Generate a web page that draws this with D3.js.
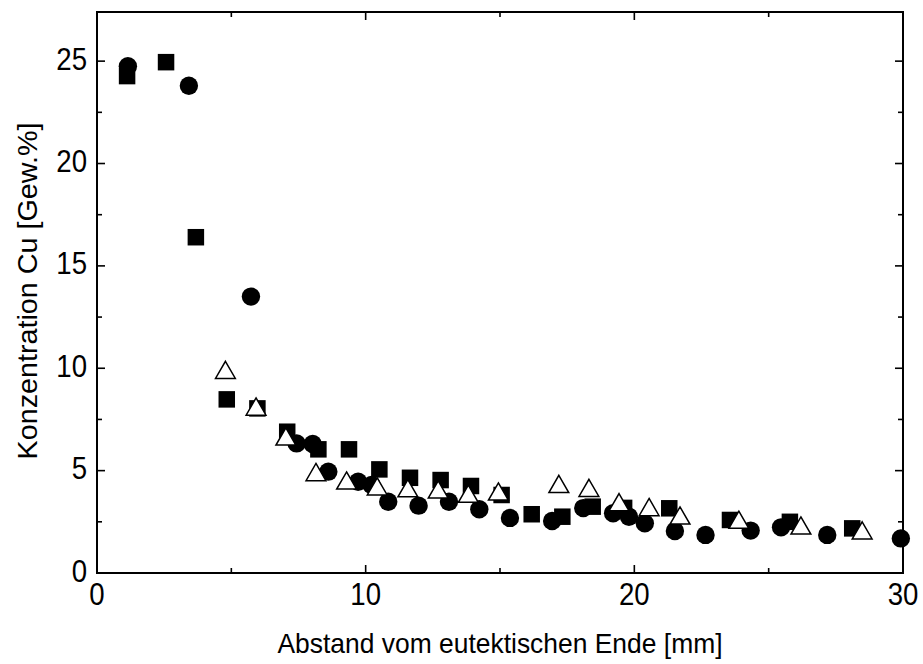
<!DOCTYPE html>
<html>
<head>
<meta charset="utf-8">
<script src="https://cdn.jsdelivr.net/npm/d3@7"></script>
<style>
  html, body { margin: 0; padding: 0; background: #fff; }
  svg { display: block; }
  text { font-family: "Liberation Sans", Arial, sans-serif; fill: #000; }
</style>
</head>
<body>
<svg id="chart" width="923" height="664"></svg>
<script>
// Cu concentration vs. distance from the eutectic end, three sample series
const circleX = [1.15, 3.42, 5.73, 7.43, 8.03, 8.61, 9.72, 10.22, 10.84, 11.97, 13.1, 14.23, 15.37, 16.94, 18.1, 19.21, 19.8, 20.39, 21.51, 22.65, 24.33, 25.46, 27.18, 29.92];
const circleY = [24.75, 23.8, 13.5, 6.33, 6.3, 4.95, 4.46, 4.3, 3.48, 3.29, 3.48, 3.11, 2.69, 2.54, 3.17, 2.92, 2.75, 2.43, 2.05, 1.86, 2.07, 2.23, 1.86, 1.69];

const squareX = [1.12, 2.57, 3.68, 4.83, 5.97, 7.08, 8.24, 9.38, 10.51, 11.65, 12.79, 13.92, 15.06, 16.18, 17.32, 18.45, 19.62, 21.3, 23.56, 25.79, 28.11];
const squareY = [24.27, 24.95, 16.4, 8.48, 8.04, 6.9, 6.04, 6.04, 5.06, 4.65, 4.54, 4.25, 3.81, 2.87, 2.75, 3.24, 3.18, 3.16, 2.59, 2.5, 2.18];

const triangleX = [4.78, 5.92, 7.03, 8.15, 9.29, 10.43, 11.57, 12.7, 13.82, 14.94, 17.19, 18.31, 19.43, 20.55, 21.7, 23.89, 26.2, 28.48];
const triangleY = [9.78, 7.99, 6.53, 4.79, 4.38, 4.09, 4.0, 3.94, 3.73, 3.84, 4.21, 4.02, 3.32, 3.08, 2.67, 2.46, 2.18, 1.94];

const xTicks = [0, 10, 20, 30];
const yTicks = [0, 5, 10, 15, 20, 25];
const xMinorTicks = [5, 15, 25];
const yMinorTicks = [2.5, 7.5, 12.5, 17.5, 22.5];

const xTitle = "Abstand vom eutektischen Ende [mm]";
const yTitle = "Konzentration Cu [Gew.%]";

const svg = d3.select("#chart");
const L = 97, R = 903, T = 12, B = 573;

const x = d3.scaleLinear().domain([0, 30]).range([L, R]);
const y = d3.scaleLinear().domain([0, 27.4]).range([B, T]);

const zip = (xs, ys) => xs.map((v, i) => ({ x: v, y: ys[i] }));

// Ticks (inward) on all four sides
const majorLen = 8, minorLen = 5;
const tickG = svg.append("g").attr("stroke", "#000").attr("stroke-width", 1.6);
function vTicks(vals, len) {
  vals.forEach(v => {
    tickG.append("line").attr("x1", x(v)).attr("x2", x(v)).attr("y1", B).attr("y2", B - len);
    tickG.append("line").attr("x1", x(v)).attr("x2", x(v)).attr("y1", T).attr("y2", T + len);
  });
}
function hTicks(vals, len) {
  vals.forEach(v => {
    tickG.append("line").attr("y1", y(v)).attr("y2", y(v)).attr("x1", L).attr("x2", L + len);
    tickG.append("line").attr("y1", y(v)).attr("y2", y(v)).attr("x1", R).attr("x2", R - len);
  });
}
vTicks(xTicks, majorLen);
vTicks(xMinorTicks, minorLen);
hTicks(yTicks, majorLen);
hTicks(yMinorTicks, minorLen);

const fs = 28;
const tickFs = 31;   // tall, narrow tick numerals
const tickSx = 0.89;

// Tick labels
svg.append("g").selectAll("text").data(xTicks).join("text")
  .attr("transform", d => `translate(${x(d)},${B + 32}) scale(${tickSx},1)`)
  .attr("text-anchor", "middle")
  .attr("font-size", tickFs)
  .text(d => d);

svg.append("g").selectAll("text").data(yTicks).join("text")
  .attr("transform", d => `translate(${L - 10},${y(d) + 8.5}) scale(${tickSx},1)`)
  .attr("text-anchor", "end")
  .attr("font-size", tickFs)
  .text(d => d);

// Axis titles
svg.append("text")
  .attr("x", (L + R) / 2).attr("y", 653)
  .attr("text-anchor", "middle")
  .attr("font-size", fs)
  .attr("textLength", 445)
  .attr("lengthAdjust", "spacingAndGlyphs")
  .text(xTitle);

svg.append("text")
  .attr("transform", `translate(37, 291) rotate(-90)`)
  .attr("text-anchor", "middle")
  .attr("font-size", fs)
  .attr("textLength", 337)
  .attr("lengthAdjust", "spacingAndGlyphs")
  .text(yTitle);

// Data markers
const plot = svg.append("g");

plot.selectAll("circle.c").data(zip(circleX, circleY)).join("circle")
  .attr("class", "c")
  .attr("cx", d => x(d.x)).attr("cy", d => y(d.y))
  .attr("r", 9.2).attr("fill", "#000");

const sq = 16.5;
plot.selectAll("rect.s").data(zip(squareX, squareY)).join("rect")
  .attr("class", "s")
  .attr("x", d => x(d.x) - sq / 2).attr("y", d => y(d.y) - sq / 2)
  .attr("width", sq).attr("height", sq).attr("fill", "#000");

const tri = d3.symbol().type(d3.symbolTriangle).size(170);
plot.selectAll("path.t").data(zip(triangleX, triangleY)).join("path")
  .attr("class", "t")
  .attr("transform", d => `translate(${x(d.x)},${y(d.y)})`)
  .attr("d", tri)
  .attr("fill", "#fff").attr("stroke", "#000").attr("stroke-width", 1.5);

// Frame
svg.append("rect")
  .attr("x", L).attr("y", T).attr("width", R - L).attr("height", B - T)
  .attr("fill", "none").attr("stroke", "#000").attr("stroke-width", 2);
</script>
</body>
</html>
